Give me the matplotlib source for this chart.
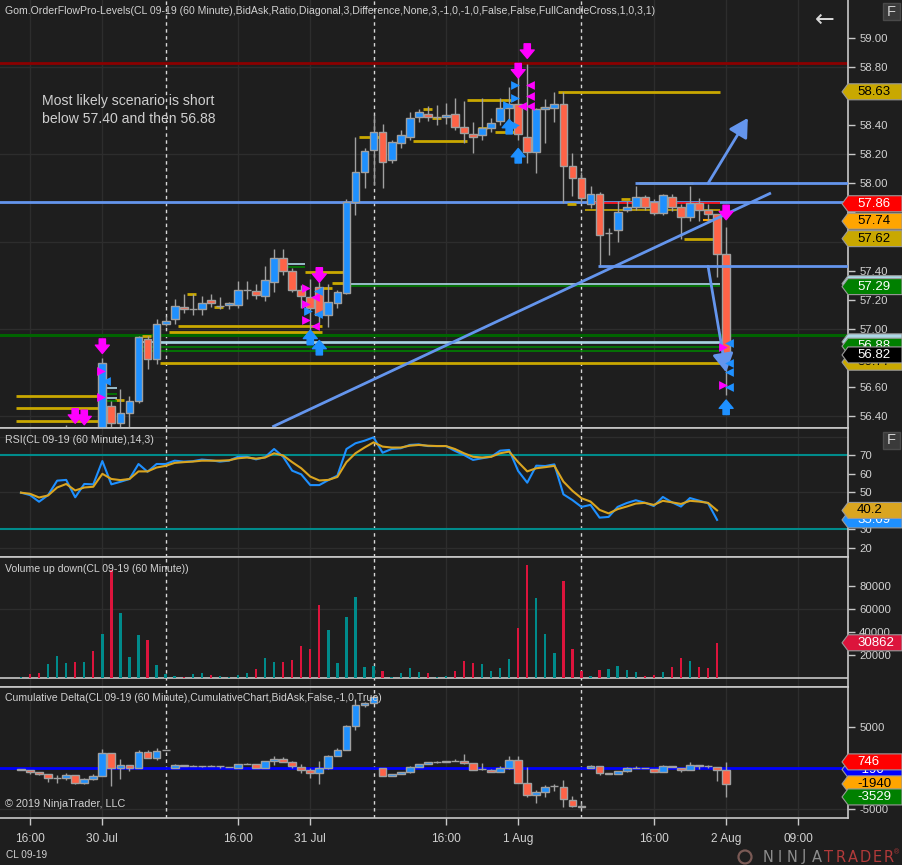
import matplotlib
matplotlib.use('Agg')
import matplotlib.pyplot as plt
from matplotlib.patches import Polygon, Rectangle, Circle
from matplotlib.transforms import IdentityTransform
import numpy as np

plt.rcParams['font.family'] = ['Liberation Sans', 'DejaVu Sans']

# ---------------- data ----------------
opens = [56.20, 56.21, 56.17, 56.10, 56.18, 56.26, 56.28, 56.18, 56.24, 56.22,
         56.47, 56.35, 56.42, 56.50, 56.93, 56.79, 57.03, 57.07, 57.15, 57.135,
         57.135, 57.20, 57.16, 57.165, 57.165, 57.27, 57.26, 57.225, 57.32, 57.49,
         57.40, 57.27, 57.22, 57.29, 57.095, 57.18, 57.245, 57.87, 58.08, 58.23,
         58.35, 58.16, 58.28, 58.32, 58.455, 58.48, 58.455, 58.455, 58.48, 58.39,
         58.34, 58.33, 58.38, 58.43, 58.52, 58.545, 58.32, 58.215, 58.51, 58.52,
         58.545, 58.12, 58.035, 57.86, 57.93, 57.66, 57.68, 57.815, 57.84, 57.905,
         57.87, 57.795, 57.905, 57.84, 57.77, 57.865, 57.815, 57.79, 57.515]
highs = [56.26, 56.24, 56.20, 56.22, 56.30, 56.34, 56.31, 56.28, 56.30, 56.80,
         56.50, 56.585, 56.54, 56.95, 56.95, 57.07, 57.09, 57.205, 57.24, 57.24,
         57.225, 57.24, 57.22, 57.185, 57.33, 57.33, 57.31, 57.43, 57.55, 57.55,
         57.42, 57.30, 57.34, 57.32, 57.31, 57.27, 57.89, 58.32, 58.24, 58.47,
         58.41, 58.30, 58.37, 58.49, 58.51, 58.53, 58.54, 58.55, 58.59, 58.57,
         58.42, 58.59, 58.45, 58.59, 58.66, 58.76, 58.82, 58.52, 58.58, 58.63,
         58.63, 58.21, 58.08, 57.98, 57.94, 57.69, 57.88, 57.88, 57.98, 57.92,
         57.89, 57.93, 57.93, 57.86, 57.98, 57.90, 57.86, 57.79, 57.70]
lows = [56.15, 56.13, 56.05, 56.08, 56.15, 56.20, 56.12, 56.14, 56.18, 56.20,
        56.28, 56.30, 56.30, 56.49, 56.72, 56.76, 57.02, 57.03, 57.11, 57.095,
        57.095, 57.15, 57.135, 57.135, 57.14, 57.205, 57.205, 57.19, 57.25, 57.37,
        57.25, 57.14, 56.98, 57.03, 57.01, 57.14, 57.24, 57.78, 57.97, 57.99,
        57.97, 58.14, 58.24, 58.30, 58.42, 58.43, 58.40, 58.41, 58.37, 58.28,
        58.21, 58.30, 58.35, 58.40, 58.36, 58.30, 58.14, 58.07, 58.28, 58.42,
        57.865, 57.91, 57.87, 57.83, 57.425, 57.51, 57.60, 57.80, 57.82, 57.82,
        57.78, 57.78, 57.81, 57.62, 57.74, 57.74, 57.745, 57.355, 56.545]
closes = [56.21, 56.17, 56.10, 56.18, 56.26, 56.28, 56.18, 56.24, 56.22, 56.765,
          56.35, 56.42, 56.50, 56.94, 56.79, 57.03, 57.05, 57.16, 57.135, 57.135,
          57.18, 57.18, 57.16, 57.18, 57.27, 57.27, 57.235, 57.335, 57.49, 57.40,
          57.27, 57.225, 57.14, 57.095, 57.185, 57.255, 57.87, 58.08, 58.22, 58.35,
          58.15, 58.285, 58.33, 58.45, 58.49, 58.455, 58.455, 58.47, 58.39, 58.345,
          58.32, 58.38, 58.415, 58.52, 58.545, 58.34, 58.215, 58.51, 58.525, 58.545,
          58.12, 58.035, 57.90, 57.93, 57.645, 57.66, 57.80, 57.835, 57.905, 57.84,
          57.795, 57.92, 57.84, 57.77, 57.865, 57.815, 57.79, 57.515, 56.82]

rsi = [49.8, 48.5, 44.9, 48.5, 56.3, 56.7, 47.3, 54.5, 54.3, 66.9,
       54.3, 55.7, 57.2, 65.3, 61.1, 65.3, 65.3, 67.1, 66.6, 66.8,
       67.7, 67.3, 66.6, 67.1, 69.2, 69.2, 67.8, 69.0, 73.4, 69.2,
       61.7, 59.7, 53.9, 53.9, 56.6, 59.0, 73.4, 76.5, 77.9, 79.7,
       71.4, 73.4, 73.8, 75.6, 75.9, 75.0, 75.0, 75.0, 72.4, 70.2,
       67.5, 68.4, 69.2, 72.5, 72.9, 61.5, 55.2, 64.4, 64.2, 65.1,
       48.9, 45.8, 42.1, 43.2, 36.3, 36.7, 42.1, 44.2, 45.7, 44.4,
       42.6, 47.5, 44.6, 42.3, 46.9, 45.5, 44.1, 35.09]
rsi_avg = [49.8, 49.2, 47.2, 48.3, 52.6, 54.5, 51.0, 52.6, 53.0, 60.0,
           57.2, 56.6, 57.2, 61.3, 61.3, 63.4, 64.3, 65.9, 66.3, 66.6,
           67.1, 67.1, 67.1, 67.3, 68.4, 68.8, 68.2, 68.8, 71.1, 69.9,
           66.3, 63.0, 58.5, 56.4, 56.7, 58.3, 66.3, 71.1, 74.2, 77.0,
           74.7, 74.2, 74.2, 75.2, 75.6, 75.2, 75.0, 75.0, 73.4, 71.1,
           69.2, 68.8, 69.2, 71.1, 72.0, 66.3, 61.3, 63.0, 63.6, 64.3,
           55.8, 50.8, 46.8, 45.0, 40.5, 38.6, 40.9, 42.3, 43.9, 44.3,
           43.2, 45.4, 44.6, 43.7, 45.4, 45.0, 44.3, 40.2]

volume = [1000, 3900, 4800, 12500, 19400, 13400, 14300, 14300, 23800, 38500,
          93800, 56600, 18600, 37600, 33300, 11700, 4200, 2200, 1300, 3900,
          4800, 3000, 2200, 1300, 3000, 4800, 8200, 17700, 14300, 14300,
          16000, 28100, 25500, 63500, 41900, 13400, 53200, 70500, 9900, 10700,
          6400, 1300, 4800, 9100, 5600, 4800, 1300, 2200, 6400, 15100,
          13400, 12500, 6400, 9100, 16900, 43700, 98000, 69600, 38500, 22000,
          84300, 25500, 6400, 2200, 7300, 8200, 10700, 7300, 5600, 2200,
          3000, 5600, 9900, 17700, 15100, 9900, 9100, 30862]

d_open = [-150, -280, -530, -770, -1260, -1220, -850, -1790, -1340, -940,
          1830, 40, 370, -40, 1950, 1260, 2150, 40, 370, 240,
          240, 280, 200, 160, 40, 530, 490, 40, 850, 1140,
          770, 120, -240, -650, 40, 1500, 2240, 5120, 7680, 7890,
          0, -930, -690, -450, 160, 450, 770, 730, 890, 810,
          610, -120, -200, -450, 0, 1020, -1830, -3250, -2890, -2200,
          -2280, -3900, -4590, 0, 240, -650, -690, -330, 0, 0,
          -120, -450, 240, 0, -200, 370, 280, 160, -190]
d_high = [-100, -250, -490, -700, -870, -650, -850, -1180, -770, 2320,
          1830, 1100, 370, 2150, 2150, 2490, 2150, 530, 370, 370,
          300, 370, 240, 160, 530, 610, 490, 850, 1420, 1340,
          850, 450, -40, 850, 1630, 2400, 5200, 8410, 8090, 8900,
          0, -690, -450, 280, 530, 730, 890, 850, 1100, 1710,
          610, 610, -120, 200, 1500, 1500, 160, -2640, -2080, -2000,
          -1460, -3410, -4310, 370, 240, -650, -330, 160, 280, 40,
          -120, 370, 240, 0, 770, 370, 370, 160, 746]
d_low = [-300, -770, -800, -1670, -1870, -1460, -2000, -1910, -1460, -940,
         -2150, -1340, -370, -40, 1260, 1020, 2150, 40, 240, 200,
         120, 200, 40, 80, 40, 450, 40, 40, 370, 770,
         40, -650, -1180, -1950, -120, 1500, 2150, 4670, 7480, 7890,
         -930, -930, -690, -650, 160, 450, 650, 730, 890, 530,
         -200, -200, -530, -450, -120, -1830, -3500, -4310, -3580, -2800,
         -4720, -4720, -4800, 0, -850, -770, -690, -450, 0, -40,
         -450, -450, 80, -530, -200, -120, -40, -1590, -3529]
d_close = [-280, -530, -770, -1260, -1180, -850, -1790, -1340, -940, 1830,
           40, 370, -40, 1950, 1260, 2070, 2150, 410, 240, 300,
           240, 280, 200, 80, 490, 530, 40, 850, 1100, 770,
           200, -280, -570, 40, 1500, 2240, 5120, 7680, 7890, 8700,
           -930, -690, -450, 160, 450, 730, 770, 850, 890, 610,
           -200, -120, -450, 0, 1020, -1830, -3250, -2890, -2280, -2200,
           -3820, -4590, -4720, 240, -650, -770, -330, -40, 0, 40,
           -450, 240, 80, -200, 370, 240, 200, -190, -1940]

time_tick_bars = [1, 9, 24, 32, 47, 55, 70, 78, 86]
time_tick_labels = ['16:00', '30 Jul', '16:00', '31 Jul', '16:00', '1 Aug', '16:00', '2 Aug', '09:00']
session_breaks = [16, 39, 62]

price_ticks = [56.40, 56.60, 56.80, 57.00, 57.20, 57.40, 57.60, 57.80, 58.00, 58.20, 58.40, 58.60, 58.80, 59.00]
price_hidden_labels = [56.80, 57.60, 57.80, 58.60]   # fully covered by value tags in the reference
price_grid = [56.4, 57.0, 57.6, 58.2, 58.8]
rsi_ticks = [20, 30, 40, 50, 60, 70]
rsi_hidden_labels = [40]
vol_ticks = [20000, 40000, 60000, 80000]
delta_ticks = [-5000, 5000]

# horizontal levels: (price, first bar, last bar)
full_red_level = 58.83
full_blue_level = 57.87
full_green_level = 56.96
gold_levels = [(56.765, 15.4, 77.3), (57.02, 17.4, 33.3), (56.98, 16.4, 33.3),
               (56.537, -0.5, 9.3), (56.455, -0.5, 9.3), (56.366, -0.5, 9.3),
               (57.39, 31.4, 36.4), (57.315, 34.4, 36.4), (58.63, 59.4, 77.3),
               (58.29, 43.4, 49.3), (58.574, 49.3, 54.4), (58.353, 52.4, 55.4),
               (58.40, 53.5, 55.4), (58.00, 68.4, 74.3), (57.62, 73.3, 77.3),
               (58.32, 37.4, 40.0), (57.24, 18.4, 19.4), (57.15, 21.4, 22.4),
               (56.51, 10.4, 11.4), (56.95, 13.4, 14.4), (57.28, 33.4, 34.4),
               (58.51, 44.5, 45.5), (58.45, 45.5, 46.5), (58.38, 50.6, 51.6),
               (58.52, 57.4, 58.4), (57.89, 66.4, 67.4), (57.86, 60.4, 61.4)]
thin_gold_levels = [(57.817, 62.4, 77.3)]
red_levels = [(57.865, 63.0, 77.3)]
orange_levels = [(57.748, 75.4, 77.3)]
lightblue_levels = [(56.911, 13.4, 77.3), (56.90, 15.4, 77.3), (57.31, 36.4, 77.3),
                    (57.445, 28.4, 31.4), (56.593, 9.4, 10.6), (56.525, 9.4, 10.6)]
green_levels = [(56.875, 13.4, 77.3), (56.85, 13.4, 77.3), (57.294, 36.4, 77.3),
                (57.425, 28.4, 31.4), (56.55, 9.4, 10.6), (56.50, 9.4, 10.6)]

# drawn objects (bar, price)
trend_lines = [((27.8, 56.325), (82.96, 57.934)),
               ((67.9, 58.00), (91.5, 58.00)),
               ((63.8, 57.43), (91.5, 57.43))]
trend_arrows = [((76.0, 58.00), (80.4, 58.45)),
                ((76.0, 57.43), (78.0, 56.70))]

sig_down = [(6, 56.35), (7, 56.34), (9, 56.83), (33, 57.32), (55, 58.725), (56, 58.86), (78, 57.75)]
sig_up = [(32, 56.99), (33, 56.92), (54, 58.44), (55, 58.24), (78, 56.51)]
mag_right = [(8.8, 56.71), (8.8, 56.53), (31.5, 57.28), (31.5, 57.17), (31.5, 57.06), (77.6, 56.875), (77.6, 56.61)]
mag_left = [(56.3, 58.68), (56.3, 58.60), (56.3, 58.53), (55.4, 58.53), (32.5, 57.22), (32.5, 57.02)]
blue_right = [(54.6, 58.68), (54.6, 58.59), (53.8, 58.54), (31.7, 57.12), (54.6, 58.40)]
blue_left = [(9.4, 56.64), (32.8, 57.26), (32.8, 57.10), (78.3, 56.90), (78.3, 56.765), (78.3, 56.70), (78.3, 56.60)]

price_tags = [(58.63, '58.63', 'gold'), (57.62, '57.62', 'gold'), (57.74, '57.74', 'orange'),
              (57.86, '57.86', 'red'), (57.31, '', 'lightblue'), (57.29, '57.29', 'green'),
              (56.91, '', 'lightblue'), (56.88, '56.88', 'green'), (56.77, '56.77', 'gold'),
              (56.82, '56.82', 'black')]

# ---------------- style ----------------
W, H = 902, 865
BG = '#1e1e1e'
GRID = '#2d2d2d'
TXT = '#d2d2d2'
FRAME = '#c8c8c8'
UP = '#1e90ff'
DN = '#ff6347'
OUTL = '#a0a0a0'
GOLD = '#c9a800'
LBLUE = '#add8e6'
CORN = '#6495ed'
MAG = '#ff00ff'
TAGC = {'gold': (GOLD, 'black'), 'orange': ('#ffa500', 'black'), 'red': ('#ff0000', 'white'),
        'lightblue': (LBLUE, 'black'), 'green': ('#008000', 'white'), 'black': ('#000000', 'white')}

fig = plt.figure(figsize=(W / 100, H / 100), dpi=100, facecolor=BG)
XL = (-2.32, 91.48)


def panel(top, bottom):
    ax = fig.add_axes([0, 1 - bottom / H, 848 / W, (bottom - top) / H], facecolor=BG)
    ax.set_xlim(*XL)
    ax.spines['left'].set_visible(False)
    for s in ('top', 'bottom', 'right'):
        ax.spines[s].set_color(FRAME)
        ax.spines[s].set_linewidth(1.2)
    ax.yaxis.tick_right()
    ax.tick_params(axis='y', colors=FRAME, labelcolor=TXT, labelsize=8.2, length=5, width=1, pad=3)
    ax.tick_params(axis='x', bottom=False, labelbottom=False)
    for b in time_tick_bars:
        ax.axvline(b, color=GRID, lw=1, zorder=0)
    for b in session_breaks:
        ax.axvline(b, color='#d8d8d8', lw=1, ls=(0, (2.5, 2.5)), zorder=1)
    return ax


def candles(ax, o, h, l, c, width=0.86):
    o, h, l, c = map(np.asarray, (o, h, l, c))
    x = np.arange(len(o))
    ax.vlines(x, l, h, color=OUTL, lw=1, zorder=3)
    cols = np.where(c > o, UP, np.where(c < o, DN, OUTL))
    ax.bar(x, np.abs(c - o), width, bottom=np.minimum(o, c), color=cols,
           edgecolor=OUTL, linewidth=1, zorder=4)


def ftext(x, y, s, **kw):
    kw.setdefault('color', TXT)
    kw.setdefault('va', 'center')
    fig.text(x / W, 1 - y / H, s, **kw)


zcount = [20]


def tag(ax, value, label, fc, tc, ec=None):
    yd = ax.transData.transform((0, value))[1]
    h = 8
    pts = [(842, yd), (848, yd + h), (902, yd + h), (902, yd - h), (848, yd - h)]
    z = zcount[0]
    zcount[0] += 2
    fig.add_artist(Polygon(pts, closed=True, transform=IdentityTransform(), fc=fc,
                           ec=ec or '#9a9a9a', lw=0.8, zorder=z))
    if label:
        fig.text(857 / W, yd / H, label, color=tc, fontsize=9.5, va='center', ha='left', zorder=z + 1)


def fbox(y):
    fig.add_artist(Rectangle((883, H - y - 17), 17, 17, transform=IdentityTransform(),
                             fc='#3a3a3a', ec='#4a4a4a', lw=1, zorder=5))
    fig.text(891.5 / W, 1 - (y + 8.5) / H, 'F', color=TXT, fontsize=10.5, ha='center', va='center', zorder=6)


# ---------------- price panel ----------------
axp = panel(0, 428)
axp.spines['top'].set_visible(False)
axp.set_ylim(56.3174, 59.2614)
axp.set_yticks(price_ticks)
axp.set_yticklabels(['' if any(abs(t - h) < 1e-6 for h in price_hidden_labels) else f'{t:.2f}'
                     for t in price_ticks])
for g in price_grid:
    axp.axhline(g, color=GRID, lw=1, zorder=0)

axp.axhline(full_red_level, color='#8b0000', lw=2, zorder=2)
axp.axhline(full_blue_level, color=CORN, lw=2, zorder=2)
axp.axhline(full_green_level, color='#006400', lw=2.2, zorder=2)


def levels(lst, color, lw):
    for p, a, b in lst:
        axp.hlines(p, a, b, color=color, lw=lw, zorder=2)


levels(gold_levels, GOLD, 2)
levels(thin_gold_levels, GOLD, 1.2)
levels(red_levels, '#ff0000', 1.2)
levels(orange_levels, '#ffa500', 1.5)
levels(lightblue_levels, LBLUE, 1.2)
levels(green_levels, '#008000', 1.2)

candles(axp, opens, highs, lows, closes)

for (x0, y0), (x1, y1) in trend_lines:
    axp.plot([x0, x1], [y0, y1], color=CORN, lw=2, zorder=6, solid_capstyle='butt')
for (x0, y0), (x1, y1) in trend_arrows:
    axp.annotate('', xy=(x1, y1), xytext=(x0, y0),
                 arrowprops=dict(arrowstyle='-|>,head_length=0.8,head_width=0.45', color=CORN, lw=2,
                                 mutation_scale=14, shrinkA=0, shrinkB=0), zorder=6)

for x, y in sig_down:
    axp.annotate('', xy=(x, y), xytext=(x, y + 0.10),
                 arrowprops=dict(arrowstyle='simple,head_length=0.6,head_width=1.0,tail_width=0.45',
                                 color=MAG, mutation_scale=10, shrinkA=0, shrinkB=0), zorder=7)
for x, y in sig_up:
    axp.annotate('', xy=(x, y), xytext=(x, y - 0.10),
                 arrowprops=dict(arrowstyle='simple,head_length=0.6,head_width=1.0,tail_width=0.45',
                                 color=UP, mutation_scale=10, shrinkA=0, shrinkB=0), zorder=7)
for pts, mk, col in ((mag_right, '>', MAG), (mag_left, '<', MAG), (blue_right, '>', UP), (blue_left, '<', UP)):
    xs, ys = zip(*pts)
    axp.scatter(xs, ys, marker=mk, s=40, color=col, linewidths=0, zorder=7)

# ---------------- RSI ----------------
axr = panel(428, 557)
axr.set_ylim(15.03, 84.76)
axr.set_yticks(rsi_ticks)
axr.set_yticklabels(['' if t in rsi_hidden_labels else str(t) for t in rsi_ticks])
for g in (20, 50, 80):
    axr.axhline(g, color=GRID, lw=1, zorder=0)
axr.axhline(70, color='#008b8b', lw=1.5, zorder=1)
axr.axhline(30, color='#008b8b', lw=1.5, zorder=1)
xr = np.arange(len(rsi))
axr.plot(xr, rsi, color=UP, lw=1.5, zorder=3)
axr.plot(xr, rsi_avg, color='#daa520', lw=1.5, zorder=4)

# ---------------- Volume ----------------
axv = panel(557, 687)
axv.set_ylim(-7347, 105013)
axv.set_yticks(vol_ticks)
axv.set_yticklabels([str(t) for t in vol_ticks])
axv.axhline(60000, color=GRID, lw=1, zorder=0)
axv.axhline(0, color=FRAME, lw=1.2, zorder=1)
xv = np.arange(len(volume))
vcols = ['#008b8b' if closes[i] >= opens[i] else '#dc143c' for i in range(len(volume))]
axv.bar(xv, volume, 0.26, color=vcols, zorder=3)

# ---------------- Cumulative delta ----------------
axd = panel(687, 818)
axd.set_ylim(-6098, 9878)
axd.set_yticks(delta_ticks)
axd.set_yticklabels([str(t) for t in delta_ticks])
axd.axhline(-5000, color=GRID, lw=1, zorder=0)
axd.axhline(0, color='#0000ff', lw=2, zorder=2)
candles(axd, d_open, d_high, d_low, d_close)
axd.tick_params(axis='x', bottom=True, labelbottom=True, colors=FRAME, labelcolor=TXT,
                labelsize=8.6, length=5, width=1, pad=6)
axd.set_xticks(time_tick_bars)
axd.set_xticklabels(time_tick_labels)

# ---------------- texts ----------------
ftext(5, 11, 'Gom.OrderFlowPro-Levels(CL 09-19 (60 Minute),BidAsk,Ratio,Diagonal,3,Difference,None,3,-1,0,-1,0,False,False,FullCandleCross,1,0,3,1)',
      fontsize=7.6, ha='left')
ftext(42, 110, 'Most likely scenario is short\nbelow 57.40 and then 56.88', fontsize=10.1, ha='left',
      linespacing=1.33, color='#cfcfcf')
ftext(5, 440, 'RSI(CL 09-19 (60 Minute),14,3)', fontsize=7.7, ha='left')
ftext(5, 569, 'Volume up down(CL 09-19 (60 Minute))', fontsize=7.6, ha='left')
ftext(5, 698, 'Cumulative Delta(CL 09-19 (60 Minute),CumulativeChart,BidAsk,False,-1,0,True)', fontsize=7.6, ha='left')
ftext(5, 804, '\u00a9 2019 NinjaTrader, LLC', fontsize=7.8, ha='left')
ftext(6, 855, 'CL 09-19', fontsize=7.2, ha='left')
ftext(825, 20, '\u2190', fontsize=17, ha='center', family='DejaVu Sans', color='#d8d8d8')
fbox(3)
fbox(432)

# logo
fig.add_artist(Circle((745, H - 857), 6.5, transform=IdentityTransform(), fc='none', ec='#7a5a55', lw=1.6, zorder=5))
for k, ch in enumerate('NINJATRADER'):
    ftext(768 + k * 12.1, 857, ch, fontsize=10.5, ha='center',
          color='#8c8c8c' if k < 5 else '#b13a3a', family='DejaVu Sans')
ftext(897, 853, '\u00ae', fontsize=5, ha='center', color='#b13a3a')

# ---------------- tags ----------------
for v, lab, kind in price_tags:
    fc, tc = TAGC[kind]
    tag(axp, v, lab, fc, tc)
tag(axr, rsi[-1], f'{rsi[-1]:.2f}', UP, 'white')
tag(axr, rsi_avg[-1], f'{rsi_avg[-1]:.1f}', '#daa520', 'black')
tag(axv, volume[-1], str(volume[-1]), '#dc143c', 'white')
tag(axd, d_open[-1], str(d_open[-1]), '#0000ff', 'white')
tag(axd, d_high[-1], str(d_high[-1]), '#ff0000', 'white')
tag(axd, d_close[-1], str(d_close[-1]), '#ffa500', 'black')
tag(axd, d_low[-1], str(d_low[-1]), '#008000', 'white')

fig.savefig('out.png', dpi=100, facecolor=BG)
